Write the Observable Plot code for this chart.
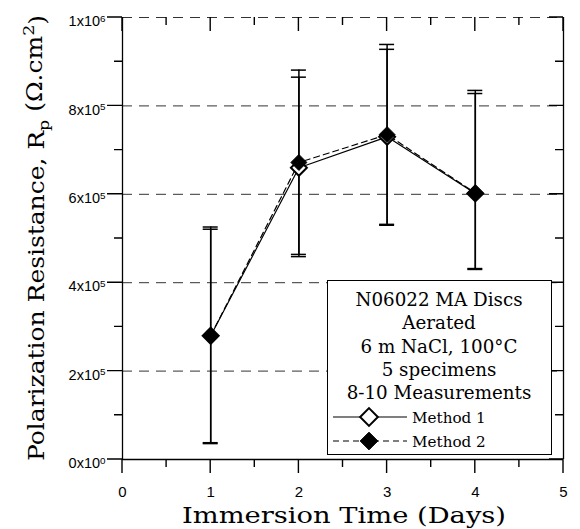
<!DOCTYPE html>
<html><head><meta charset="utf-8">
<script src="https://cdn.jsdelivr.net/npm/d3@7"></script>
<script src="https://cdn.jsdelivr.net/npm/@observablehq/plot@0.6"></script>
<style>body{margin:0;background:#fff}</style>
</head><body><div id="chart"></div>
<script>
const days = [1, 2, 3, 4];
const method1 = [2.80e5, 6.60e5, 7.30e5, 6.02e5];
const method2 = [2.80e5, 6.72e5, 7.35e5, 6.03e5];
const method1Low = [0.36e5, 4.59e5, 5.30e5, 4.30e5];
const method1High = [5.21e5, 8.65e5, 9.28e5, 8.28e5];
const method2Low = [0.38e5, 4.64e5, 5.32e5, 4.32e5];
const method2High = [5.26e5, 8.81e5, 9.39e5, 8.35e5];
const xTicks = [0, 1, 2, 3, 4, 5];
const xMinorTicks = [0.5, 1.5, 2.5, 3.5, 4.5];
const yTicks = [0, 2e5, 4e5, 6e5, 8e5, 1e6];
const yMinorTicks = [1e5, 3e5, 5e5, 7e5, 9e5];
const gridValues = [2e5, 4e5, 6e5, 8e5, 1e6];
const legendLines = ["N06022 MA Discs", "Aerated", "6 m NaCl, 100°C", "5 specimens", "8-10 Measurements"];
const seriesNames = ["Method 1", "Method 2"];
const xLabel = "Immersion Time (Days)";

const W = 580, H = 529;
const mL = 122, mR = 17, mT = 17, mB = 70;
const xDomain = [0, 5], yDomain = [0, 1e6];
const dxPerPx = (xDomain[1] - xDomain[0]) / (W - mL - mR);
const capHalf = 7.5 * dxPerPx;

const rows = (v, lo, hi) => days.map((d, i) => ({day: d, v: v[i], lo: lo[i], hi: hi[i]}));
const m1 = rows(method1, method1Low, method1High);
const m2 = rows(method2, method2Low, method2High);

function yFmt(d) {
  if (d === 0) return "0x10^0";
  const e = Math.floor(Math.log10(d) + 1e-9);
  return `${Math.round(d / 10 ** e)}x10^${e}`;
}

const sans = "Liberation Sans, Arial, sans-serif";
const chart = Plot.plot({
  width: W, height: H,
  marginLeft: mL, marginRight: mR, marginTop: mT, marginBottom: mB,
  x: {domain: xDomain, label: null},
  y: {domain: yDomain, label: null},
  style: {fontFamily: sans, background: "white", color: "black"},
  marks: [
    Plot.ruleY(gridValues, {stroke: "#333", strokeWidth: 1, strokeDasharray: "10,7"}),
    Plot.ruleX(xDomain, {stroke: "black", strokeWidth: 1.3}),
    Plot.ruleY([yDomain[0]], {stroke: "black", strokeWidth: 1.3}),
    Plot.axisX({ticks: xTicks, tickSize: 0, tickPadding: 27, tickFormat: d => String(d), fontSize: 15, fontFamily: sans, fill: "black", label: null}),
    Plot.axisY({ticks: yTicks, tickSize: 0, tickPadding: 17, dy: 4, tickFormat: yFmt, fontSize: 14.5, fontFamily: sans, fill: "black", label: null}),
    Plot.line(m1, {x: "day", y: "v", stroke: "black", strokeWidth: 1.2}),
    Plot.line(m2, {x: "day", y: "v", stroke: "black", strokeWidth: 1.2, strokeDasharray: "6,4"}),
    Plot.ruleX(m1, {x: "day", y1: "lo", y2: "hi", stroke: "black", strokeWidth: 1.5}),
    Plot.ruleX(m2, {x: "day", y1: "lo", y2: "hi", stroke: "black", strokeWidth: 1.5}),
    Plot.ruleY(m1, {y: "hi", x1: d => d.day - capHalf, x2: d => d.day + capHalf, stroke: "black", strokeWidth: 1.5}),
    Plot.ruleY(m1, {y: "lo", x1: d => d.day - capHalf, x2: d => d.day + capHalf, stroke: "black", strokeWidth: 1.5}),
    Plot.ruleY(m2, {y: "hi", x1: d => d.day - capHalf, x2: d => d.day + capHalf, stroke: "black", strokeWidth: 1.5}),
    Plot.ruleY(m2, {y: "lo", x1: d => d.day - capHalf, x2: d => d.day + capHalf, stroke: "black", strokeWidth: 1.5}),
    Plot.dot(m1, {x: "day", y: "v", symbol: "diamond2", r: 7.2, fill: "white", stroke: "black", strokeWidth: 2}),
    Plot.dot(m2, {x: "day", y: "v", symbol: "diamond2", r: 7.2, fill: "black", stroke: "black", strokeWidth: 1})
  ]
});
document.getElementById("chart").appendChild(chart);

const svg = d3.select(chart);

// tick marks: one path, positions from the plot's own scales (linear fallback)
const sx = chart.scale("x"), sy = chart.scale("y");
const linX = d3.scaleLinear(xDomain, [mL, W - mR]);
const linY = d3.scaleLinear(yDomain, [H - mB, mT]);
const X = v => { const p = sx && sx.apply ? +sx.apply(v) : NaN; return Number.isFinite(p) ? p : linX(v); };
const Y = v => { const p = sy && sy.apply ? +sy.apply(v) : NaN; return Number.isFinite(p) ? p : linY(v); };
const xl = X(xDomain[0]), xr = X(xDomain[1]), yb = Y(yDomain[0]), yt = Y(yDomain[1]);
let d = "";
const vt = (xs, y, len) => xs.forEach(v => { d += `M${X(v).toFixed(2)},${y.toFixed(2)}V${(y + len).toFixed(2)}`; });
const ht = (ys, x, len) => ys.forEach(v => { d += `M${x.toFixed(2)},${Y(v).toFixed(2)}H${(x + len).toFixed(2)}`; });
vt(xTicks, yb, 14); vt(xMinorTicks, yb, 8);     // bottom, outward
vt(xTicks, yt, 14); vt(xMinorTicks, yt, 8);     // top, inward
ht(yTicks, xl, -15); ht(yMinorTicks, xl, -8);   // left, outward
ht(yTicks, xr, -14); ht(yMinorTicks, xr, -8);   // right, inward
svg.append("path").attr("d", d).attr("fill", "none").attr("stroke", "black").attr("stroke-width", 1.4);

svg.selectAll('g[aria-label="y-axis tick label"] text').each(function() {
  const t = d3.select(this);
  const s = t.text();
  if (!s.includes("^")) return;
  const [base, ex] = s.split("^");
  t.text(base);
  t.append("tspan").attr("dy", "-0.45em").attr("font-size", "0.68em").text(ex);
});

const serif = "DejaVu Serif, serif";
svg.append("text")
  .attr("x", 344).attr("y", 523)
  .attr("text-anchor", "middle")
  .attr("font-family", serif).attr("font-size", 22)
  .attr("textLength", 324).attr("lengthAdjust", "spacingAndGlyphs")
  .attr("fill", "black")
  .text(xLabel);

const yl = svg.append("text")
  .attr("transform", "translate(44,238) rotate(-90)")
  .attr("text-anchor", "middle")
  .attr("font-family", serif).attr("font-size", 22)
  .attr("textLength", 446).attr("lengthAdjust", "spacingAndGlyphs")
  .attr("fill", "black");
yl.append("tspan").text("Polarization Resistance, R");
yl.append("tspan").attr("dy", "0.3em").attr("font-size", "0.7em").text("p");
yl.append("tspan").attr("dy", "-0.3em").text(" (Ω.cm");
yl.append("tspan").attr("dy", "-0.5em").attr("font-size", "0.7em").text("2");
yl.append("tspan").attr("dy", "0.5em").text(")");

const lg = svg.append("g");
lg.append("rect").attr("x", 327.5).attr("y", 280.5).attr("width", 224).attr("height", 174)
  .attr("fill", "white").attr("stroke", "black").attr("stroke-width", 1);
legendLines.forEach((s, i) => {
  lg.append("text").attr("x", 439).attr("y", 306 + i * 23.3)
    .attr("text-anchor", "middle").attr("font-family", serif).attr("font-size", 18.3)
    .attr("fill", "black").text(s);
});
seriesNames.forEach((s, i) => {
  const y = 417 + i * 24;
  lg.append("line").attr("x1", 333).attr("x2", 407).attr("y1", y).attr("y2", y)
    .attr("stroke", "black").attr("stroke-width", 1.2)
    .attr("stroke-dasharray", i === 1 ? "6,4" : null);
  lg.append("path").attr("d", d3.symbol(d3.symbolDiamond2, 200)())
    .attr("transform", `translate(369,${y})`)
    .attr("fill", i === 0 ? "white" : "black").attr("stroke", "black").attr("stroke-width", i === 0 ? 2 : 1);
  lg.append("text").attr("x", 412).attr("y", y + 5.5)
    .attr("text-anchor", "start")
    .attr("font-family", serif).attr("font-size", 15.2).attr("fill", "black").text(s);
});
</script>
</body></html>
